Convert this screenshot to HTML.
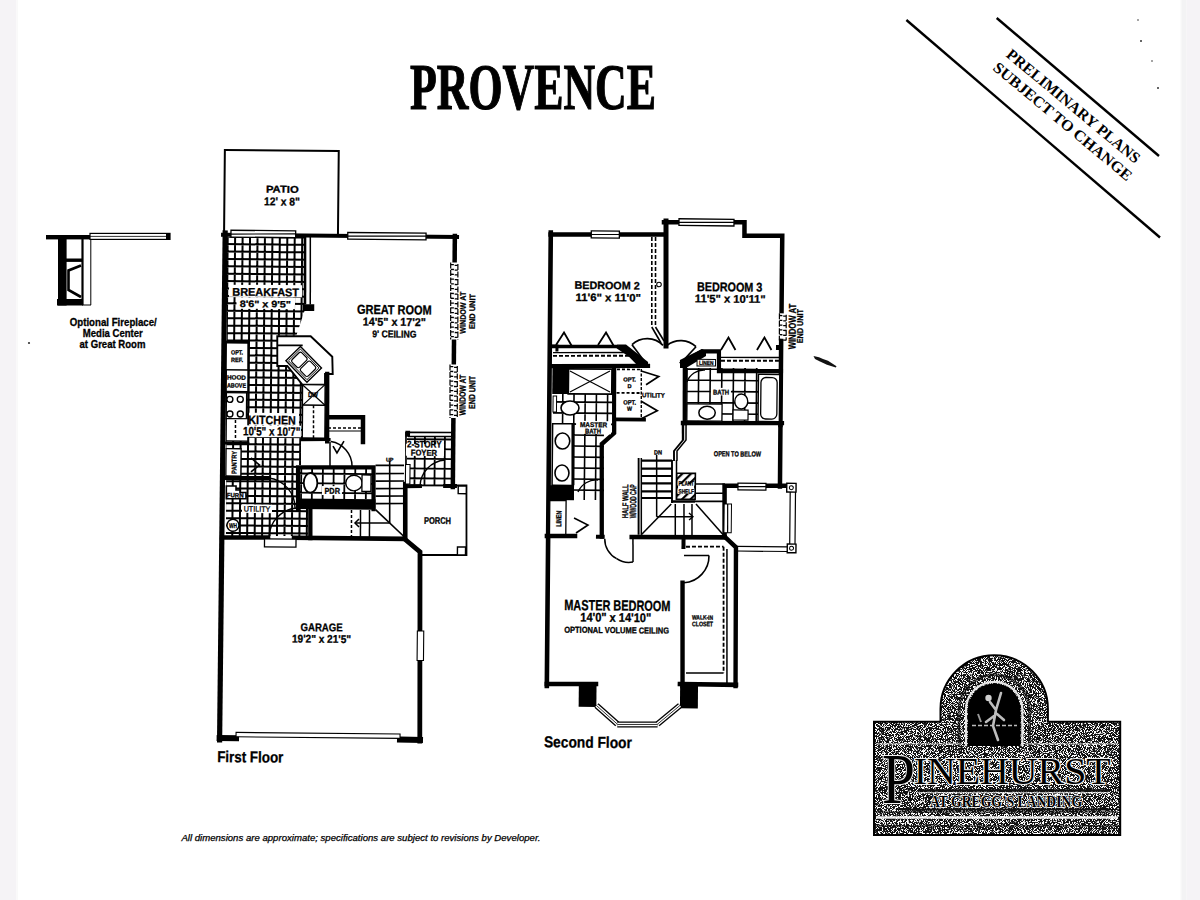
<!DOCTYPE html>
<html><head><meta charset="utf-8"><title>Provence</title>
<style>
html,body{margin:0;padding:0;background:#fff;}
body{width:1200px;height:900px;overflow:hidden;position:relative;}
svg{position:absolute;left:0;top:0;display:block;}
text{fill:#000;}
</style></head>
<body>
<svg width="1200" height="900" viewBox="0 0 1200 900">
<defs>
<pattern id="t1" patternUnits="userSpaceOnUse" x="225.7" y="240.3" width="7.45" height="7.4">
<rect width="7.45" height="7.4" fill="#000"/><rect x="1" y="1" width="5.45" height="5.4" fill="#fff"/>
</pattern>
<pattern id="t2" patternUnits="userSpaceOnUse" x="0" y="0" width="11.2" height="11.2">
<rect width="11.2" height="11.2" fill="#000"/><rect x="0.8" y="0.8" width="9.6" height="9.6" fill="#fff"/>
</pattern>
<pattern id="hatch" patternUnits="userSpaceOnUse" width="6" height="6" patternTransform="rotate(-45)">
<rect width="6" height="6" fill="#fff"/><rect width="6" height="2.2" fill="#000"/>
</pattern>
<filter id="speck" x="0" y="0" width="100%" height="100%" color-interpolation-filters="sRGB">
<feTurbulence type="fractalNoise" baseFrequency="1.1" numOctaves="2" seed="7" result="n"/>
<feColorMatrix in="n" type="matrix" values="0 0 0 0 1  0 0 0 0 1  0 0 0 0 1  14 0 0 0 -7.15" result="m"/>
<feComposite in="m" in2="SourceGraphic" operator="in"/>
</filter>
</defs>
<rect x="0" y="0" width="1200" height="900" fill="#fff"/>
<rect x="0" y="0" width="16.5" height="900" fill="#f5f3f6"/>
<rect x="16.5" y="0" width="1.5" height="900" fill="#f9f9f9"/>
<rect x="1180.5" y="0" width="1" height="900" fill="#f8f8f8"/>
<rect x="1181.5" y="0" width="5" height="900" fill="#f3f3f4"/>
<rect x="1186.5" y="0" width="13.5" height="900" fill="#f5f3f6"/>
<g transform="rotate(0.55 600 450)">
<clipPath id="clp1"><polygon points="225,240.6 302.5,239.8 303.2,313.8 295.2,338.6 276.4,338.8 276.7,369.1 286.5,369 301.9,387.4 302.4,443.9 300.9,443.9 301.2,467.9 296.2,467.9 296.6,511.9 308.6,511.8 308.8,538.8 226.8,539.6"/></clipPath>
<g clip-path="url(#clp1)"><rect x="220" y="236.6" width="92.9" height="306.2" fill="#fff"/>
<path d="M218.2,236.6V542.8M225.7,236.6V542.8M233.1,236.6V542.8M240.6,236.6V542.8M248,236.6V542.8M255.5,236.6V542.8M262.9,236.6V542.8M270.4,236.6V542.8M277.8,236.6V542.8M285.3,236.6V542.8M292.7,236.6V542.8M300.2,236.6V542.8M307.6,236.6V542.8M315.1,236.6V542.8M220,232.9H312.8M220,240.3H312.8M220,247.7H312.8M220,255.1H312.8M220,262.5H312.8M220,269.9H312.8M220,277.3H312.8M220,284.7H312.8M220,292.1H312.8M220,299.5H312.8M220,306.9H312.8M220,314.3H312.8M220,321.7H312.8M220,329.1H312.8M220,336.5H312.8M220,343.9H312.8M220,351.3H312.8M220,358.7H312.8M220,366.1H312.8M220,373.5H312.8M220,380.9H312.8M220,388.3H312.8M220,395.7H312.8M220,403.1H312.8M220,410.5H312.8M220,417.9H312.8M220,425.3H312.8M220,432.7H312.8M220,440.1H312.8M220,447.5H312.8M220,454.9H312.8M220,462.3H312.8M220,469.7H312.8M220,477.1H312.8M220,484.5H312.8M220,491.9H312.8M220,499.3H312.8M220,506.7H312.8M220,514.1H312.8M220,521.5H312.8M220,528.9H312.8M220,536.3H312.8M220,543.7H312.8" stroke="#000" stroke-width="2" fill="none"/></g>
<clipPath id="clp2"><polygon points="406.9,437.9 451.9,437.4 452.4,487.4 407.4,487.9"/></clipPath>
<g clip-path="url(#clp2)"><rect x="402.9" y="433.9" width="53.5" height="57.6" fill="#fff"/>
<path d="M394.8,433.9V491.4M404.8,433.9V491.4M414.8,433.9V491.4M424.8,433.9V491.4M434.8,433.9V491.4M444.8,433.9V491.4M454.8,433.9V491.4M464.8,433.9V491.4M402.9,431.1H456.4M402.9,440.9H456.4M402.9,450.7H456.4M402.9,460.5H456.4M402.9,470.3H456.4M402.9,480.1H456.4M402.9,489.9H456.4M402.9,499.7H456.4" stroke="#000" stroke-width="1.8" fill="none"/></g>
<clipPath id="clp3"><polygon points="300.2,471.9 372.2,471.2 372.5,501.2 300.5,501.9"/></clipPath>
<g clip-path="url(#clp3)"><rect x="296.2" y="467.9" width="80.3" height="37.3" fill="#fff"/>
<path d="M290.7,467.9V505.2M301.5,467.9V505.2M312.3,467.9V505.2M323.1,467.9V505.2M333.9,467.9V505.2M344.7,467.9V505.2M355.5,467.9V505.2M366.3,467.9V505.2M377.1,467.9V505.2M296.2,466.8H376.5M296.2,476.4H376.5M296.2,486H376.5M296.2,495.6H376.5M296.2,505.2H376.5M296.2,514.8H376.5" stroke="#000" stroke-width="1.8" fill="none"/></g>
<rect x="222" y="153.6" width="113.9" height="85" fill="none" stroke="#000" stroke-width="2"/>
<text x="263.5" y="195.7" font-family="Liberation Sans" font-weight="bold" font-size="9.8" textLength="32.7" lengthAdjust="spacingAndGlyphs" stroke="#000" stroke-width="0.3">PATIO</text>
<text x="261.7" y="208.5" font-family="Liberation Sans" font-weight="bold" font-size="11.3" textLength="35.8" lengthAdjust="spacingAndGlyphs" stroke="#000" stroke-width="0.3">12' x 8&quot;</text>
<polyline points="221,238.4 455,238.4" fill="none" stroke="#000" stroke-width="4" stroke-linecap="square" stroke-linejoin="miter"/>
<rect x="228.9" y="233.8" width="64.7" height="6.8" fill="#fff" stroke="#000" stroke-width="1.3"/>
<line x1="228.9" y1="237.6" x2="293.6" y2="236.9" stroke="#000" stroke-width="1.2" stroke-linecap="butt"/>
<rect x="345.7" y="234.9" width="78.3" height="6.6" fill="#fff" stroke="#000" stroke-width="1.3"/>
<line x1="345.7" y1="238.5" x2="424" y2="237.8" stroke="#000" stroke-width="1.2" stroke-linecap="butt"/>
<polyline points="223.1,236.6 222.4,743.6" fill="none" stroke="#000" stroke-width="5.2" stroke-linecap="square" stroke-linejoin="miter"/>
<polyline points="452.8,237.4 453.2,488.4" fill="none" stroke="#000" stroke-width="4.5" stroke-linecap="square" stroke-linejoin="miter"/>
<rect x="448.8" y="263.9" width="8.2" height="77" fill="#fff"/>
<line x1="448.9" y1="263.9" x2="449.6" y2="340.9" stroke="#000" stroke-width="1.2" stroke-linecap="butt" stroke-dasharray="6,1.5"/>
<line x1="456.1" y1="265.4" x2="456.8" y2="340.9" stroke="#000" stroke-width="1.2" stroke-linecap="butt" stroke-dasharray="6,1.5"/>
<line x1="449" y1="266.1" x2="452.1" y2="266.1" stroke="#000" stroke-width="1.3" stroke-linecap="butt"/>
<line x1="452.9" y1="266.7" x2="456" y2="266.7" stroke="#000" stroke-width="1.3" stroke-linecap="butt"/>
<line x1="449.1" y1="270.9" x2="452.2" y2="270.9" stroke="#000" stroke-width="1.3" stroke-linecap="butt"/>
<line x1="453" y1="271.5" x2="456.1" y2="271.5" stroke="#000" stroke-width="1.3" stroke-linecap="butt"/>
<line x1="449.1" y1="275.7" x2="452.2" y2="275.7" stroke="#000" stroke-width="1.3" stroke-linecap="butt"/>
<line x1="453" y1="276.3" x2="456.1" y2="276.3" stroke="#000" stroke-width="1.3" stroke-linecap="butt"/>
<line x1="449.2" y1="280.5" x2="452.3" y2="280.5" stroke="#000" stroke-width="1.3" stroke-linecap="butt"/>
<line x1="453.1" y1="281.1" x2="456.2" y2="281.1" stroke="#000" stroke-width="1.3" stroke-linecap="butt"/>
<line x1="449.2" y1="285.3" x2="452.3" y2="285.3" stroke="#000" stroke-width="1.3" stroke-linecap="butt"/>
<line x1="453.1" y1="285.9" x2="456.2" y2="285.9" stroke="#000" stroke-width="1.3" stroke-linecap="butt"/>
<line x1="449.3" y1="290.1" x2="452.4" y2="290.1" stroke="#000" stroke-width="1.3" stroke-linecap="butt"/>
<line x1="453.2" y1="290.7" x2="456.3" y2="290.7" stroke="#000" stroke-width="1.3" stroke-linecap="butt"/>
<line x1="449.3" y1="294.9" x2="452.4" y2="294.9" stroke="#000" stroke-width="1.3" stroke-linecap="butt"/>
<line x1="453.2" y1="295.5" x2="456.3" y2="295.5" stroke="#000" stroke-width="1.3" stroke-linecap="butt"/>
<line x1="449.4" y1="299.7" x2="452.5" y2="299.7" stroke="#000" stroke-width="1.3" stroke-linecap="butt"/>
<line x1="453.3" y1="300.3" x2="456.4" y2="300.3" stroke="#000" stroke-width="1.3" stroke-linecap="butt"/>
<line x1="449.4" y1="304.5" x2="452.5" y2="304.5" stroke="#000" stroke-width="1.3" stroke-linecap="butt"/>
<line x1="453.3" y1="305.1" x2="456.4" y2="305.1" stroke="#000" stroke-width="1.3" stroke-linecap="butt"/>
<line x1="449.4" y1="309.3" x2="452.5" y2="309.3" stroke="#000" stroke-width="1.3" stroke-linecap="butt"/>
<line x1="453.3" y1="309.9" x2="456.4" y2="309.9" stroke="#000" stroke-width="1.3" stroke-linecap="butt"/>
<line x1="449.5" y1="314.1" x2="452.6" y2="314.1" stroke="#000" stroke-width="1.3" stroke-linecap="butt"/>
<line x1="453.4" y1="314.7" x2="456.5" y2="314.7" stroke="#000" stroke-width="1.3" stroke-linecap="butt"/>
<line x1="449.5" y1="318.9" x2="452.6" y2="318.9" stroke="#000" stroke-width="1.3" stroke-linecap="butt"/>
<line x1="453.4" y1="319.5" x2="456.5" y2="319.5" stroke="#000" stroke-width="1.3" stroke-linecap="butt"/>
<line x1="449.6" y1="323.7" x2="452.7" y2="323.7" stroke="#000" stroke-width="1.3" stroke-linecap="butt"/>
<line x1="453.5" y1="324.3" x2="456.6" y2="324.3" stroke="#000" stroke-width="1.3" stroke-linecap="butt"/>
<line x1="449.6" y1="328.5" x2="452.7" y2="328.5" stroke="#000" stroke-width="1.3" stroke-linecap="butt"/>
<line x1="453.5" y1="329.1" x2="456.6" y2="329.1" stroke="#000" stroke-width="1.3" stroke-linecap="butt"/>
<line x1="449.7" y1="333.3" x2="452.8" y2="333.3" stroke="#000" stroke-width="1.3" stroke-linecap="butt"/>
<line x1="453.6" y1="333.9" x2="456.7" y2="333.9" stroke="#000" stroke-width="1.3" stroke-linecap="butt"/>
<line x1="449.7" y1="338.1" x2="452.8" y2="338.1" stroke="#000" stroke-width="1.3" stroke-linecap="butt"/>
<line x1="453.6" y1="338.7" x2="456.7" y2="338.7" stroke="#000" stroke-width="1.3" stroke-linecap="butt"/>
<rect x="448.9" y="365.9" width="8.3" height="53.5" fill="#fff"/>
<line x1="449.2" y1="365.9" x2="449.7" y2="419.4" stroke="#000" stroke-width="1.2" stroke-linecap="butt" stroke-dasharray="6,1.5"/>
<line x1="456.5" y1="367.4" x2="457" y2="419.4" stroke="#000" stroke-width="1.2" stroke-linecap="butt" stroke-dasharray="6,1.5"/>
<line x1="449.3" y1="368.1" x2="452.5" y2="368.1" stroke="#000" stroke-width="1.3" stroke-linecap="butt"/>
<line x1="453.3" y1="368.7" x2="456.4" y2="368.7" stroke="#000" stroke-width="1.3" stroke-linecap="butt"/>
<line x1="449.4" y1="372.9" x2="452.5" y2="372.9" stroke="#000" stroke-width="1.3" stroke-linecap="butt"/>
<line x1="453.3" y1="373.5" x2="456.5" y2="373.5" stroke="#000" stroke-width="1.3" stroke-linecap="butt"/>
<line x1="449.4" y1="377.7" x2="452.5" y2="377.7" stroke="#000" stroke-width="1.3" stroke-linecap="butt"/>
<line x1="453.4" y1="378.3" x2="456.5" y2="378.3" stroke="#000" stroke-width="1.3" stroke-linecap="butt"/>
<line x1="449.4" y1="382.5" x2="452.6" y2="382.5" stroke="#000" stroke-width="1.3" stroke-linecap="butt"/>
<line x1="453.4" y1="383.1" x2="456.6" y2="383.1" stroke="#000" stroke-width="1.3" stroke-linecap="butt"/>
<line x1="449.5" y1="387.3" x2="452.6" y2="387.3" stroke="#000" stroke-width="1.3" stroke-linecap="butt"/>
<line x1="453.4" y1="387.9" x2="456.6" y2="387.9" stroke="#000" stroke-width="1.3" stroke-linecap="butt"/>
<line x1="449.5" y1="392.1" x2="452.7" y2="392.1" stroke="#000" stroke-width="1.3" stroke-linecap="butt"/>
<line x1="453.5" y1="392.7" x2="456.6" y2="392.7" stroke="#000" stroke-width="1.3" stroke-linecap="butt"/>
<line x1="449.6" y1="396.9" x2="452.7" y2="396.9" stroke="#000" stroke-width="1.3" stroke-linecap="butt"/>
<line x1="453.5" y1="397.5" x2="456.7" y2="397.5" stroke="#000" stroke-width="1.3" stroke-linecap="butt"/>
<line x1="449.6" y1="401.7" x2="452.8" y2="401.7" stroke="#000" stroke-width="1.3" stroke-linecap="butt"/>
<line x1="453.6" y1="402.3" x2="456.7" y2="402.3" stroke="#000" stroke-width="1.3" stroke-linecap="butt"/>
<line x1="449.7" y1="406.5" x2="452.8" y2="406.5" stroke="#000" stroke-width="1.3" stroke-linecap="butt"/>
<line x1="453.6" y1="407.1" x2="456.8" y2="407.1" stroke="#000" stroke-width="1.3" stroke-linecap="butt"/>
<line x1="449.7" y1="411.3" x2="452.9" y2="411.3" stroke="#000" stroke-width="1.3" stroke-linecap="butt"/>
<line x1="453.7" y1="411.9" x2="456.8" y2="411.9" stroke="#000" stroke-width="1.3" stroke-linecap="butt"/>
<line x1="449.8" y1="416.1" x2="452.9" y2="416.1" stroke="#000" stroke-width="1.3" stroke-linecap="butt"/>
<line x1="453.7" y1="416.7" x2="456.9" y2="416.7" stroke="#000" stroke-width="1.3" stroke-linecap="butt"/>
<text x="0" y="0" transform="translate(464.4,335) rotate(-90)" font-family="Liberation Sans" font-weight="bold" font-size="8.1" textLength="42" lengthAdjust="spacingAndGlyphs" stroke="#000" stroke-width="0.3">WINDOW AT</text>
<text x="0" y="0" transform="translate(473.7,330.2) rotate(-90)" font-family="Liberation Sans" font-weight="bold" font-size="8.2" textLength="35" lengthAdjust="spacingAndGlyphs" stroke="#000" stroke-width="0.3">END UNIT</text>
<text x="0" y="0" transform="translate(465.1,416.9) rotate(-90)" font-family="Liberation Sans" font-weight="bold" font-size="8.9" textLength="40.9" lengthAdjust="spacingAndGlyphs" stroke="#000" stroke-width="0.3">WINDOW AT</text>
<text x="0" y="0" transform="translate(474.6,410.2) rotate(-90)" font-family="Liberation Sans" font-weight="bold" font-size="8.9" textLength="33" lengthAdjust="spacingAndGlyphs" stroke="#000" stroke-width="0.3">END UNIT</text>
<line x1="303" y1="239.8" x2="303.6" y2="307.3" stroke="#000" stroke-width="2.6" stroke-linecap="butt"/>
<line x1="308.3" y1="239.8" x2="308.9" y2="307.3" stroke="#000" stroke-width="1.5" stroke-linecap="butt"/>
<rect x="301.6" y="307.1" width="11.3" height="6.7" fill="#000"/>
<rect x="227.5" y="288.2" width="73" height="12" fill="#fff"/>
<text x="230.8" y="299.2" font-family="Liberation Sans" font-weight="bold" font-size="11.2" textLength="66.7" lengthAdjust="spacingAndGlyphs" stroke="#000" stroke-width="0.3">BREAKFAST</text>
<rect x="235.1" y="300.7" width="58.5" height="11.5" fill="#fff"/>
<text x="238.3" y="310.5" font-family="Liberation Sans" font-weight="bold" font-size="9.4" textLength="51.3" lengthAdjust="spacingAndGlyphs" stroke="#000" stroke-width="0.3">8'6&quot; x 9'5&quot;</text>
<text x="355.7" y="316.2" font-family="Liberation Sans" font-weight="bold" font-size="13.1" textLength="74.7" lengthAdjust="spacingAndGlyphs" stroke="#000" stroke-width="0.3">GREAT ROOM</text>
<text x="361.7" y="327.8" font-family="Liberation Sans" font-weight="bold" font-size="11.3" textLength="63" lengthAdjust="spacingAndGlyphs" stroke="#000" stroke-width="0.3">14'5&quot; x 17'2&quot;</text>
<text x="371.1" y="339.4" font-family="Liberation Sans" font-weight="bold" font-size="9.8" textLength="44.3" lengthAdjust="spacingAndGlyphs" stroke="#000" stroke-width="0.3">9' CEILING</text>
<polygon points="276.2,339.4 309.6,339.1 331.4,359.3 332,376.6 324.3,376.6 324.4,387.3 301.9,387.6 286.5,369 276.5,369.1" fill="#fff" stroke="#000" stroke-width="1.9" stroke-linecap="square" stroke-linejoin="miter"/>
<line x1="277" y1="348.4" x2="301.7" y2="348.2" stroke="#000" stroke-width="1.7" stroke-linecap="butt"/>
<g transform="translate(302.9,367.2) rotate(45)">
<rect x="-15" y="-10.2" width="30" height="20.4" fill="#fff" stroke="#000" stroke-width="1.4"/>
<rect x="-13.2" y="-8.4" width="26.4" height="16.8" fill="none" stroke="#000" stroke-width="0.9"/>
<rect x="-11.5" y="-6.8" width="10.6" height="13.6" rx="2" fill="none" stroke="#000" stroke-width="1.2"/>
<rect x="0.9" y="-6.8" width="10.6" height="13.6" rx="2" fill="none" stroke="#000" stroke-width="1.2"/>
</g>
<polyline points="326.5,376.6 327.1,443.9" fill="none" stroke="#000" stroke-width="4.3" stroke-linecap="square" stroke-linejoin="miter"/>
<rect x="302" y="387.5" width="22.5" height="20.6" fill="#fff" stroke="#000" stroke-width="1.3"/>
<line x1="301.9" y1="387.6" x2="324.6" y2="407.9" stroke="#000" stroke-width="1.2" stroke-linecap="butt"/>
<line x1="324.4" y1="387.3" x2="302.1" y2="408.2" stroke="#000" stroke-width="1.2" stroke-linecap="butt"/>
<text x="307.5" y="399.8" font-family="Liberation Sans" font-weight="bold" font-size="7" textLength="10" lengthAdjust="spacingAndGlyphs" stroke="#000" stroke-width="0.3">DW</text>
<rect x="302.2" y="408" width="22.5" height="32.7" fill="#fff" stroke="#000" stroke-width="1.3"/>
<line x1="313.1" y1="408.1" x2="313.4" y2="440.8" stroke="#000" stroke-width="1.5" stroke-linecap="butt" stroke-dasharray="3,2"/>
<polyline points="302.4,442.4 328.9,442.1" fill="none" stroke="#000" stroke-width="3.2" stroke-linecap="square" stroke-linejoin="miter"/>
<polyline points="225.3,345.6 247.3,345.4" fill="none" stroke="#000" stroke-width="2.8" stroke-linecap="square" stroke-linejoin="miter"/>
<rect x="225.4" y="346.5" width="22" height="27" fill="#fff" stroke="#000" stroke-width="1.1"/>
<text x="230.1" y="358" font-family="Liberation Sans" font-weight="bold" font-size="6.3" textLength="12" lengthAdjust="spacingAndGlyphs" stroke="#000" stroke-width="0.3">OPT.</text>
<text x="230.2" y="365.5" font-family="Liberation Sans" font-weight="bold" font-size="6.3" textLength="12" lengthAdjust="spacingAndGlyphs" stroke="#000" stroke-width="0.3">REF.</text>
<rect x="225.7" y="373.5" width="22" height="21.5" fill="#fff" stroke="#000" stroke-width="1.1"/>
<text x="226.3" y="383.1" font-family="Liberation Sans" font-weight="bold" font-size="6.3" textLength="19" lengthAdjust="spacingAndGlyphs" stroke="#000" stroke-width="0.3">HOOD</text>
<text x="226.4" y="391.1" font-family="Liberation Sans" font-weight="bold" font-size="6.3" textLength="19" lengthAdjust="spacingAndGlyphs" stroke="#000" stroke-width="0.3">ABOVE</text>
<rect x="225.9" y="396.2" width="20.2" height="26" fill="#fff" stroke="#000" stroke-width="1.3"/>
<circle cx="229.4" cy="402.9" r="3" fill="none" stroke="#000" stroke-width="1.4"/>
<circle cx="239.8" cy="402.8" r="3" fill="none" stroke="#000" stroke-width="1.4"/>
<circle cx="229.6" cy="417.6" r="3" fill="none" stroke="#000" stroke-width="1.4"/>
<circle cx="240" cy="417.5" r="3" fill="none" stroke="#000" stroke-width="1.4"/>
<rect x="226.1" y="422.2" width="22" height="22.3" fill="#fff" stroke="#000" stroke-width="1.1"/>
<line x1="235.2" y1="423.5" x2="235.4" y2="443.5" stroke="#000" stroke-width="1.5" stroke-linecap="butt" stroke-dasharray="3,2"/>
<line x1="247.3" y1="345.4" x2="248.2" y2="444.4" stroke="#000" stroke-width="1.9" stroke-linecap="butt"/>
<rect x="248.7" y="416.1" width="50" height="12.5" fill="#fff"/>
<text x="248.1" y="427.4" font-family="Liberation Sans" font-weight="bold" font-size="12.2" textLength="47.4" lengthAdjust="spacingAndGlyphs" stroke="#000" stroke-width="0.3">KITCHEN</text>
<rect x="241.8" y="428.7" width="59" height="11.5" fill="#fff"/>
<text x="242.9" y="438.7" font-family="Liberation Sans" font-weight="bold" font-size="12" textLength="57.3" lengthAdjust="spacingAndGlyphs" stroke="#000" stroke-width="0.3">10'5&quot; x 10'7&quot;</text>
<polyline points="226,446.6 247.9,446.4" fill="none" stroke="#000" stroke-width="3" stroke-linecap="square" stroke-linejoin="miter"/>
<rect x="226.1" y="452.2" width="15" height="27.3" fill="#fff" stroke="#000" stroke-width="1.3"/>
<text x="0" y="0" transform="translate(236.7,477.5) rotate(-90)" font-family="Liberation Sans" font-weight="bold" font-size="7" textLength="23" lengthAdjust="spacingAndGlyphs" stroke="#000" stroke-width="0.3">PANTRY</text>
<polyline points="226.3,481.6 268.6,481.2" fill="none" stroke="#000" stroke-width="4.2" stroke-linecap="square" stroke-linejoin="miter"/>
<path d="M251.1,461.3 L259.7,468.3 L251.2,475.3" fill="none" stroke="#000" stroke-width="1.6"/>
<polygon points="226.7,489.6 236.4,489.5 236.4,493.5 240.4,493.5 240.4,496 246.4,495.9 246.5,502.1 226.8,502.3" fill="#fff" stroke="#000" stroke-width="1.6" stroke-linecap="square" stroke-linejoin="miter"/>
<text x="227.3" y="500.9" font-family="Liberation Sans" font-weight="bold" font-size="6.3" textLength="16.7" lengthAdjust="spacingAndGlyphs" stroke="#000" stroke-width="0.3">FURN</text>
<circle cx="233.7" cy="528.8" r="6" fill="#fff" stroke="#000" stroke-width="1.4"/>
<text x="229.8" y="531.6" font-family="Liberation Sans" font-weight="bold" font-size="7" textLength="8" lengthAdjust="spacingAndGlyphs" stroke="#000" stroke-width="0.3">WH</text>
<rect x="242.6" y="507.8" width="30" height="8.5" fill="#fff"/>
<text x="244.3" y="514.9" font-family="Liberation Sans" font-weight="normal" font-size="7.7" textLength="26.6" lengthAdjust="spacingAndGlyphs" stroke="#000" stroke-width="0.3">UTILITY</text>
<path d="M268.6,481.2 A30,30 0 0 1 295.6,510.9" fill="none" stroke="#000" stroke-width="1.4"/>
<path d="M297.6,510.9 A30,30 0 0 0 269.9,540.2" fill="none" stroke="#000" stroke-width="1.4"/>
<line x1="269.8" y1="539.2" x2="269.9" y2="548.2" stroke="#000" stroke-width="1.4" stroke-linecap="butt"/>
<polyline points="222.9,541.1 268.9,540.7" fill="none" stroke="#000" stroke-width="4.6" stroke-linecap="square" stroke-linejoin="miter"/>
<polyline points="294.9,540.7 404.9,540.7" fill="none" stroke="#000" stroke-width="4.6" stroke-linecap="square" stroke-linejoin="miter"/>
<rect x="265.4" y="542.1" width="31.5" height="8" fill="#fff" stroke="#000" stroke-width="1.3"/>
<polyline points="298.6,511.9 298.2,470.2 373.7,469.5 374.1,511.2" fill="none" stroke="#000" stroke-width="4.2" stroke-linecap="square" stroke-linejoin="miter"/>
<rect x="296.5" y="501.5" width="79.5" height="10.5" fill="#000"/>
<ellipse cx="310.9" cy="485.6" rx="6.8" ry="9.8" fill="#fff" stroke="#000" stroke-width="1.8"/>
<ellipse cx="354.3" cy="485.4" rx="8.2" ry="7.8" fill="#fff" stroke="#000" stroke-width="1.4"/>
<rect x="362.3" y="477.2" width="9" height="16.5" fill="#fff" stroke="#000" stroke-width="1.3"/>
<rect x="322.4" y="488.6" width="20" height="9" fill="#fff"/>
<text x="324.9" y="496.3" font-family="Liberation Sans" font-weight="bold" font-size="8.4" textLength="15.5" lengthAdjust="spacingAndGlyphs" stroke="#000" stroke-width="0.3">PDR</text>
<polyline points="310.9,511.8 311.2,540.8" fill="none" stroke="#000" stroke-width="4.3" stroke-linecap="square" stroke-linejoin="miter"/>
<path d="M330.9,444.1 A25,25 0 0 1 352.2,468.4" fill="none" stroke="#000" stroke-width="1.5"/>
<line x1="329.9" y1="444.1" x2="330.2" y2="468.6" stroke="#000" stroke-width="1.5" stroke-linecap="butt"/>
<path d="M333,448.6 L337,455.5 L343.9,443.5" fill="none" stroke="#000" stroke-width="1.6"/>
<polyline points="327.7,419.9 362.7,419.6 362.9,444.3" fill="none" stroke="#000" stroke-width="4.5" stroke-linecap="square" stroke-linejoin="miter"/>
<line x1="327.8" y1="430.6" x2="360.8" y2="430.3" stroke="#000" stroke-width="1.7" stroke-linecap="butt" stroke-dasharray="3,2"/>
<line x1="327.8" y1="433.6" x2="360.8" y2="433.3" stroke="#000" stroke-width="1.2" stroke-linecap="butt"/>
<line x1="375.7" y1="467.5" x2="404.2" y2="467.2" stroke="#000" stroke-width="1.7" stroke-linecap="butt"/>
<line x1="375.7" y1="475.7" x2="404.2" y2="475.4" stroke="#000" stroke-width="1.7" stroke-linecap="butt"/>
<line x1="375.8" y1="483.2" x2="404.3" y2="482.9" stroke="#000" stroke-width="1.7" stroke-linecap="butt"/>
<line x1="375.9" y1="490.7" x2="404.4" y2="490.4" stroke="#000" stroke-width="1.7" stroke-linecap="butt"/>
<line x1="376" y1="498.2" x2="404.5" y2="497.9" stroke="#000" stroke-width="1.7" stroke-linecap="butt"/>
<line x1="376" y1="505.7" x2="404.5" y2="505.4" stroke="#000" stroke-width="1.7" stroke-linecap="butt"/>
<line x1="389.8" y1="463" x2="390.4" y2="525" stroke="#000" stroke-width="1.6" stroke-linecap="butt"/>
<line x1="376.1" y1="511.7" x2="404.8" y2="538.4" stroke="#000" stroke-width="1.6" stroke-linecap="butt"/>
<line x1="352.1" y1="512.4" x2="352.3" y2="539.4" stroke="#000" stroke-width="1.5" stroke-linecap="butt" stroke-dasharray="3,2"/>
<line x1="361.1" y1="512.3" x2="361.3" y2="539.3" stroke="#000" stroke-width="1.5" stroke-linecap="butt"/>
<line x1="370.1" y1="512.2" x2="370.3" y2="539.2" stroke="#000" stroke-width="1.5" stroke-linecap="butt"/>
<line x1="355.7" y1="525.3" x2="390.4" y2="525" stroke="#000" stroke-width="1.5" stroke-linecap="butt"/>
<path d="M359.7,521.3 L355.7,525.3 L359.8,529.3" fill="none" stroke="#000" stroke-width="1.5"/>
<text x="386.1" y="463.6" font-family="Liberation Sans" font-weight="bold" font-size="5.3" textLength="7.5" lengthAdjust="spacingAndGlyphs" stroke="#000" stroke-width="0.3">UP</text>
<polyline points="405.6,485.9 406.1,538.9" fill="none" stroke="#000" stroke-width="4.6" stroke-linecap="square" stroke-linejoin="miter"/>
<line x1="405.8" y1="433.9" x2="406.3" y2="485.9" stroke="#000" stroke-width="1.7" stroke-linecap="butt"/>
<line x1="407.8" y1="434.3" x2="451.8" y2="433.9" stroke="#000" stroke-width="1.7" stroke-linecap="butt"/>
<line x1="407.9" y1="438.3" x2="451.9" y2="437.9" stroke="#000" stroke-width="1.5" stroke-linecap="butt"/>
<rect x="405.2" y="432.5" width="4.7" height="6" fill="#000"/>
<rect x="406" y="445.7" width="38" height="12" fill="#fff"/>
<text x="407" y="449.2" font-family="Liberation Sans" font-weight="bold" font-size="9.5" textLength="34.5" lengthAdjust="spacingAndGlyphs" stroke="#000" stroke-width="0.3">2-STORY</text>
<text x="410.8" y="457.3" font-family="Liberation Sans" font-weight="bold" font-size="8.4" textLength="26.3" lengthAdjust="spacingAndGlyphs" stroke="#000" stroke-width="0.3">FOYER</text>
<polyline points="405.9,488.1 420.4,487.9" fill="none" stroke="#000" stroke-width="3.8" stroke-linecap="square" stroke-linejoin="miter"/>
<polyline points="445.4,487.5 455.4,487.4" fill="none" stroke="#000" stroke-width="3.8" stroke-linecap="square" stroke-linejoin="miter"/>
<rect x="405.7" y="466.3" width="4.5" height="19.5" fill="#fff" stroke="#000" stroke-width="1.1"/>
<path d="M420.4,487.7 A27,27 0 0 1 445.1,461.5" fill="none" stroke="#000" stroke-width="1.4"/>
<polyline points="408,487.3 466.8,486.8 467.5,556.3 423,556.7" fill="none" stroke="#000" stroke-width="1.8" stroke-linecap="square" stroke-linejoin="miter"/>
<rect x="458.6" y="487.3" width="8.1" height="7.7" fill="#fff" stroke="#000" stroke-width="1.4"/>
<rect x="458.4" y="548.3" width="8.1" height="8" fill="#fff" stroke="#000" stroke-width="1.4"/>
<text x="424.7" y="525.4" font-family="Liberation Sans" font-weight="bold" font-size="9.4" textLength="27" lengthAdjust="spacingAndGlyphs" stroke="#000" stroke-width="0.3">PORCH</text>
<polyline points="404.9,540.4 421,553.7 422.6,742.7" fill="none" stroke="#000" stroke-width="4.8" stroke-linecap="square" stroke-linejoin="miter"/>
<polyline points="222.4,741.6 238.8,741.7" fill="none" stroke="#000" stroke-width="6" stroke-linecap="square" stroke-linejoin="miter"/>
<polyline points="402.8,741.4 422.8,741.7" fill="none" stroke="#000" stroke-width="6" stroke-linecap="square" stroke-linejoin="miter"/>
<rect x="238.8" y="735.9" width="164" height="4.4" fill="#fff" stroke="#000" stroke-width="1.1"/>
<rect x="419.1" y="632.7" width="6.4" height="29.5" fill="#fff" stroke="#000" stroke-width="1.1"/>
<text x="302.3" y="633.9" font-family="Liberation Sans" font-weight="bold" font-size="11.2" textLength="42" lengthAdjust="spacingAndGlyphs" stroke="#000" stroke-width="0.3">GARAGE</text>
<text x="293.9" y="645.4" font-family="Liberation Sans" font-weight="bold" font-size="11.2" textLength="59" lengthAdjust="spacingAndGlyphs" stroke="#000" stroke-width="0.3">19'2&quot; x 21'5&quot;</text>
<text x="220.2" y="765.7" font-family="Liberation Sans" font-weight="bold" font-size="15.6" textLength="66.1" lengthAdjust="spacingAndGlyphs" stroke="#000" stroke-width="0.3">First Floor</text>
<clipPath id="clp4"><polygon points="552.5,394.5 611.5,393.9 611.8,432.9 572.8,433.3 573.4,490.3 553.4,490.4"/></clipPath>
<g clip-path="url(#clp4)"><rect x="548.5" y="390.5" width="67.9" height="103.4" fill="#fff"/>
<path d="M539.9,390.5V493.9M551.1,390.5V493.9M562.3,390.5V493.9M573.5,390.5V493.9M584.7,390.5V493.9M595.9,390.5V493.9M607.1,390.5V493.9M618.3,390.5V493.9M548.5,380.3H616.4M548.5,391.3H616.4M548.5,402.3H616.4M548.5,413.3H616.4M548.5,424.3H616.4M548.5,435.3H616.4M548.5,446.3H616.4M548.5,457.3H616.4M548.5,468.3H616.4M548.5,479.3H616.4M548.5,490.3H616.4M548.5,501.3H616.4" stroke="#000" stroke-width="1.6" fill="none"/></g>
<clipPath id="clp5"><polygon points="572.8,433.3 603.8,433 604.5,500 573.5,500.3"/></clipPath>
<g clip-path="url(#clp5)"><rect x="568.8" y="429.3" width="39.6" height="74.7" fill="#fff"/>
<path d="M562.3,429.3V504M573.5,429.3V504M584.7,429.3V504M595.9,429.3V504M607.1,429.3V504M618.3,429.3V504M568.8,424.3H608.5M568.8,435.3H608.5M568.8,446.3H608.5M568.8,457.3H608.5M568.8,468.3H608.5M568.8,479.3H608.5M568.8,490.3H608.5M568.8,501.3H608.5M568.8,512.3H608.5" stroke="#000" stroke-width="1.6" fill="none"/></g>
<clipPath id="clp6"><polygon points="686.2,367.2 757.2,366.5 757.7,419.5 686.7,420.2"/></clipPath>
<g clip-path="url(#clp6)"><rect x="682.2" y="363.2" width="79.5" height="60.3" fill="#fff"/>
<path d="M674.7,363.2V423.5M686.3,363.2V423.5M697.9,363.2V423.5M709.5,363.2V423.5M721.1,363.2V423.5M732.7,363.2V423.5M744.3,363.2V423.5M755.9,363.2V423.5M767.5,363.2V423.5M682.2,356.8H761.7M682.2,368H761.7M682.2,379.2H761.7M682.2,390.4H761.7M682.2,401.6H761.7M682.2,412.8H761.7M682.2,424H761.7" stroke="#000" stroke-width="1.6" fill="none"/></g>
<polyline points="548.6,235 660.9,233.9" fill="none" stroke="#000" stroke-width="4.6" stroke-linecap="square" stroke-linejoin="miter"/>
<rect x="589.2" y="231" width="28.1" height="7" fill="#fff" stroke="#000" stroke-width="1.3"/>
<line x1="589.2" y1="234.6" x2="617.3" y2="234.3" stroke="#000" stroke-width="1.2" stroke-linecap="butt"/>
<polyline points="548.7,233 549.1,686.5" fill="none" stroke="#000" stroke-width="4.6" stroke-linecap="square" stroke-linejoin="miter"/>
<text x="572.9" y="289.1" font-family="Liberation Sans" font-weight="bold" font-size="10.9" textLength="65.2" lengthAdjust="spacingAndGlyphs" stroke="#000" stroke-width="0.3">BEDROOM 2</text>
<text x="574.1" y="301.2" font-family="Liberation Sans" font-weight="bold" font-size="10.8" textLength="65.3" lengthAdjust="spacingAndGlyphs" stroke="#000" stroke-width="0.3">11'6&quot; x 11'0&quot;</text>
<line x1="649.8" y1="236.5" x2="650.6" y2="326.5" stroke="#000" stroke-width="1.6" stroke-linecap="butt" stroke-dasharray="4,2"/>
<line x1="653.5" y1="236.5" x2="654.3" y2="326.5" stroke="#000" stroke-width="1.6" stroke-linecap="butt" stroke-dasharray="4,2"/>
<line x1="650.6" y1="326.5" x2="660" y2="342.4" stroke="#000" stroke-width="1.6" stroke-linecap="butt"/>
<line x1="654.3" y1="326.5" x2="663" y2="340.4" stroke="#000" stroke-width="1.6" stroke-linecap="butt"/>
<circle cx="657.4" cy="283.9" r="2.3" fill="#fff" stroke="#000" stroke-width="1"/>
<polyline points="552,346.5 556,346.4 556,350.4" fill="none" stroke="#000" stroke-width="3" stroke-linecap="square" stroke-linejoin="miter"/>
<path d="M555,345.4 L562.9,332.9 L570.5,345.8" fill="none" stroke="#000" stroke-width="1.8"/>
<path d="M597,345 L604.9,332.4 L612.5,345.4" fill="none" stroke="#000" stroke-width="1.8"/>
<polyline points="551,347 616,346.3 644.2,364.6" fill="none" stroke="#000" stroke-width="3.5" stroke-linecap="square" stroke-linejoin="miter"/>
<polygon points="616,344.3 625,344.3 647.2,361.5 647.2,367.5 639.2,367.6" fill="#000"/>
<line x1="552.1" y1="356.3" x2="629.1" y2="355.5" stroke="#000" stroke-width="1.9" stroke-linecap="butt" stroke-dasharray="4,2"/>
<line x1="552.1" y1="353" x2="629.1" y2="352.2" stroke="#000" stroke-width="1.3" stroke-linecap="butt"/>
<polyline points="551.2,366.5 647.2,365.5" fill="none" stroke="#000" stroke-width="4.2" stroke-linecap="square" stroke-linejoin="miter"/>
<polyline points="663.8,220.4 665,345.4" fill="none" stroke="#000" stroke-width="5" stroke-linecap="square" stroke-linejoin="miter"/>
<polyline points="661.8,221.7 742.3,220.9 742.4,234.4 780.2,234.1 780.2,310.3" fill="none" stroke="#000" stroke-width="4.5" stroke-linecap="square" stroke-linejoin="miter"/>
<rect x="676.8" y="218" width="55" height="6.7" fill="#fff" stroke="#000" stroke-width="1.3"/>
<line x1="676.8" y1="221.6" x2="731.8" y2="221.1" stroke="#000" stroke-width="1.2" stroke-linecap="butt"/>
<rect x="777.7" y="311.6" width="7.8" height="27.3" fill="#fff"/>
<line x1="778.1" y1="311.6" x2="778.3" y2="338.9" stroke="#000" stroke-width="1.2" stroke-linecap="butt" stroke-dasharray="6,1.5"/>
<line x1="784.9" y1="313" x2="785.1" y2="338.8" stroke="#000" stroke-width="1.2" stroke-linecap="butt" stroke-dasharray="6,1.5"/>
<line x1="778.2" y1="313.8" x2="781.1" y2="313.8" stroke="#000" stroke-width="1.3" stroke-linecap="butt"/>
<line x1="781.9" y1="314.3" x2="784.8" y2="314.3" stroke="#000" stroke-width="1.3" stroke-linecap="butt"/>
<line x1="778.2" y1="318.6" x2="781.1" y2="318.6" stroke="#000" stroke-width="1.3" stroke-linecap="butt"/>
<line x1="782" y1="319.1" x2="784.9" y2="319.1" stroke="#000" stroke-width="1.3" stroke-linecap="butt"/>
<line x1="778.3" y1="323.4" x2="781.2" y2="323.4" stroke="#000" stroke-width="1.3" stroke-linecap="butt"/>
<line x1="782" y1="323.9" x2="784.9" y2="323.9" stroke="#000" stroke-width="1.3" stroke-linecap="butt"/>
<line x1="778.3" y1="328.2" x2="781.2" y2="328.2" stroke="#000" stroke-width="1.3" stroke-linecap="butt"/>
<line x1="782" y1="328.7" x2="784.9" y2="328.7" stroke="#000" stroke-width="1.3" stroke-linecap="butt"/>
<line x1="778.4" y1="333" x2="781.3" y2="333" stroke="#000" stroke-width="1.3" stroke-linecap="butt"/>
<line x1="782.1" y1="333.5" x2="785" y2="333.5" stroke="#000" stroke-width="1.3" stroke-linecap="butt"/>
<line x1="778.4" y1="337.8" x2="781.3" y2="337.8" stroke="#000" stroke-width="1.3" stroke-linecap="butt"/>
<line x1="782.1" y1="338.3" x2="785" y2="338.3" stroke="#000" stroke-width="1.3" stroke-linecap="butt"/>
<polyline points="780.1,339.3 780.2,423.3" fill="none" stroke="#000" stroke-width="4.5" stroke-linecap="square" stroke-linejoin="miter"/>
<text x="695.5" y="290.1" font-family="Liberation Sans" font-weight="bold" font-size="12.6" textLength="65.3" lengthAdjust="spacingAndGlyphs" stroke="#000" stroke-width="0.3">BEDROOM 3</text>
<text x="693.4" y="301.4" font-family="Liberation Sans" font-weight="bold" font-size="11" textLength="70.8" lengthAdjust="spacingAndGlyphs" stroke="#000" stroke-width="0.3">11'5&quot; x 10'11&quot;</text>
<text x="0" y="0" transform="translate(794.6,347.5) rotate(-90)" font-family="Liberation Sans" font-weight="bold" font-size="10.2" textLength="45.5" lengthAdjust="spacingAndGlyphs" stroke="#000" stroke-width="0.3">WINDOW AT</text>
<text x="0" y="0" transform="translate(801.8,341.4) rotate(-90)" font-family="Liberation Sans" font-weight="bold" font-size="8.5" textLength="34.4" lengthAdjust="spacingAndGlyphs" stroke="#000" stroke-width="0.3">END UNIT</text>
<line x1="643.1" y1="360.3" x2="631" y2="344.4" stroke="#000" stroke-width="1.7" stroke-linecap="butt"/>
<path d="M631,344.4 A22,22 0 0 1 662,344.7" fill="none" stroke="#000" stroke-width="1.7"/>
<line x1="680.5" y1="361.9" x2="695" y2="345.8" stroke="#000" stroke-width="1.7" stroke-linecap="butt"/>
<path d="M695,345.8 A22,22 0 0 0 666,344.7" fill="none" stroke="#000" stroke-width="1.7"/>
<path d="M720,348.8 L727.4,336.3 L734.5,348.7" fill="none" stroke="#000" stroke-width="1.8"/>
<path d="M756,348.5 L763.4,335.9 L770.5,348.4" fill="none" stroke="#000" stroke-width="1.8"/>
<rect x="775" y="343.3" width="5" height="5" fill="#000"/>
<polyline points="681.2,362.2 701,350.3 718,350.2 718.2,369.9 780.2,369.3" fill="none" stroke="#000" stroke-width="4.2" stroke-linecap="square" stroke-linejoin="miter"/>
<polygon points="679.1,359.2 701,348 705,350 705.1,355 685.2,367.2 679.2,367.2" fill="#000"/>
<line x1="720.1" y1="359.6" x2="778.1" y2="359.1" stroke="#000" stroke-width="1.9" stroke-linecap="butt" stroke-dasharray="4,2"/>
<line x1="720.1" y1="356.3" x2="778.1" y2="355.8" stroke="#000" stroke-width="1.3" stroke-linecap="butt"/>
<rect x="696.2" y="358.3" width="18.5" height="6.7" fill="#fff" stroke="#000" stroke-width="1"/>
<text x="698.2" y="363.9" font-family="Liberation Sans" font-weight="bold" font-size="6" textLength="14.5" lengthAdjust="spacingAndGlyphs" stroke="#000" stroke-width="0.3">LINEN</text>
<polyline points="684,361.2 684.5,422.2" fill="none" stroke="#000" stroke-width="4.3" stroke-linecap="square" stroke-linejoin="miter"/>
<polyline points="682.7,422.2 781.7,421.3" fill="none" stroke="#000" stroke-width="4.3" stroke-linecap="square" stroke-linejoin="miter"/>
<rect x="757.7" y="372.8" width="21.4" height="47.2" fill="#fff" stroke="#000" stroke-width="1.5"/>
<rect x="760.3" y="375.9" width="16.2" height="41.5" fill="none" stroke="#000" stroke-width="1.3" rx="5"/>
<ellipse cx="740.8" cy="400.1" rx="6.5" ry="7.5" fill="#fff" stroke="#000" stroke-width="1.4"/>
<rect x="732.7" y="408.7" width="15" height="10" fill="#fff" stroke="#000" stroke-width="1.2"/>
<rect x="686.6" y="403" width="35" height="17" fill="#fff" stroke="#000" stroke-width="1.2"/>
<ellipse cx="706.7" cy="411.7" rx="8.2" ry="6.4" fill="#fff" stroke="#000" stroke-width="1.5"/>
<rect x="710.4" y="386.8" width="20" height="7.5" fill="#fff"/>
<text x="712.5" y="393.4" font-family="Liberation Sans" font-weight="bold" font-size="6.8" textLength="16" lengthAdjust="spacingAndGlyphs" stroke="#000" stroke-width="0.3">BATH</text>
<path d="M686.3,381.2 A18,18 0 0 1 704.2,369" fill="none" stroke="#000" stroke-width="1.4"/>
<rect x="551.7" y="366" width="16" height="28.4" fill="#000"/>
<rect x="567.7" y="369.1" width="43.6" height="25" fill="#fff" stroke="#000" stroke-width="1.8"/>
<line x1="569.2" y1="371.3" x2="609.4" y2="391.9" stroke="#000" stroke-width="1.2" stroke-linecap="butt"/>
<line x1="609.2" y1="370.9" x2="569.4" y2="392.3" stroke="#000" stroke-width="1.2" stroke-linecap="butt"/>
<polyline points="613.4,365.9 614,433 601.7,444 602.6,536.5" fill="none" stroke="#000" stroke-width="4.3" stroke-linecap="square" stroke-linejoin="miter"/>
<rect x="596.8" y="534.7" width="8.7" height="4" fill="#000"/>
<rect x="552.6" y="396.4" width="3.5" height="16" fill="#fff" stroke="#000" stroke-width="1"/>
<ellipse cx="569.6" cy="408.3" rx="9" ry="7" fill="#fff" stroke="#000" stroke-width="1.6"/>
<rect x="575.8" y="421.1" width="35" height="13" fill="#fff"/>
<text x="579.8" y="427.2" font-family="Liberation Sans" font-weight="bold" font-size="7" textLength="27" lengthAdjust="spacingAndGlyphs" stroke="#000" stroke-width="0.3">MASTER</text>
<text x="584.8" y="433.6" font-family="Liberation Sans" font-weight="bold" font-size="7" textLength="16" lengthAdjust="spacingAndGlyphs" stroke="#000" stroke-width="0.3">BATH</text>
<rect x="552.4" y="424.1" width="20.6" height="61.6" fill="#fff" stroke="#000" stroke-width="1.5"/>
<line x1="572.7" y1="424" x2="573.3" y2="485.6" stroke="#000" stroke-width="3" stroke-linecap="butt"/>
<rect x="549.9" y="485.7" width="24.5" height="14.7" fill="#000"/>
<ellipse cx="562.4" cy="441.4" rx="7.3" ry="8" fill="#fff" stroke="#000" stroke-width="1.6"/>
<ellipse cx="562.2" cy="473.4" rx="7" ry="8" fill="#fff" stroke="#000" stroke-width="1.6"/>
<path d="M578.4,492.2 A20,20 0 0 1 598.3,480" fill="none" stroke="#000" stroke-width="1.4"/>
<rect x="616" y="368.7" width="25" height="51" fill="#fff"/>
<line x1="616.2" y1="369.3" x2="640.2" y2="369.1" stroke="#000" stroke-width="1.7" stroke-linecap="butt" stroke-dasharray="3,2"/>
<line x1="640.5" y1="368.6" x2="641" y2="419.6" stroke="#000" stroke-width="1.4" stroke-linecap="butt" stroke-dasharray="3,1.5"/>
<line x1="616" y1="392.8" x2="640.5" y2="392.6" stroke="#000" stroke-width="1.8" stroke-linecap="butt" stroke-dasharray="3,2"/>
<polyline points="615.7,419.3 643.7,419.1" fill="none" stroke="#000" stroke-width="3.8" stroke-linecap="square" stroke-linejoin="miter"/>
<text x="622.6" y="381.3" font-family="Liberation Sans" font-weight="bold" font-size="5.9" textLength="12.7" lengthAdjust="spacingAndGlyphs" stroke="#000" stroke-width="0.3">OPT.</text>
<text x="626.9" y="387.7" font-family="Liberation Sans" font-weight="bold" font-size="5.6" textLength="4" lengthAdjust="spacingAndGlyphs" stroke="#000" stroke-width="0.3">D</text>
<text x="622.9" y="404.3" font-family="Liberation Sans" font-weight="bold" font-size="6.3" textLength="12.7" lengthAdjust="spacingAndGlyphs" stroke="#000" stroke-width="0.3">OPT.</text>
<text x="626.6" y="410.4" font-family="Liberation Sans" font-weight="bold" font-size="5.9" textLength="5" lengthAdjust="spacingAndGlyphs" stroke="#000" stroke-width="0.3">W</text>
<text x="641.5" y="396.9" font-family="Liberation Sans" font-weight="bold" font-size="6.4" textLength="22.7" lengthAdjust="spacingAndGlyphs" stroke="#000" stroke-width="0.3">UTILITY</text>
<path d="M640.5,370.6 L658,375.9 L645.4,384.3" fill="none" stroke="#000" stroke-width="1.7"/>
<path d="M640.8,400.9 L656.9,410.2 L641,418.3" fill="none" stroke="#000" stroke-width="1.7"/>
<line x1="682.7" y1="422.2" x2="682.9" y2="439.2" stroke="#000" stroke-width="2.4" stroke-linecap="butt"/>
<polyline points="682.7,423.2 682.9,439.2 674,450.3 674.1,459.3" fill="none" stroke="#000" stroke-width="1.9" stroke-linecap="square" stroke-linejoin="miter"/>
<polyline points="685.8,424.2 685.9,439.2 677,450.3 677.1,459.3" fill="none" stroke="#000" stroke-width="1.5" stroke-linecap="square" stroke-linejoin="miter"/>
<line x1="638.7" y1="457.6" x2="639.4" y2="534.3" stroke="#000" stroke-width="1.9" stroke-linecap="butt"/>
<line x1="641.4" y1="457.6" x2="642.1" y2="534.3" stroke="#000" stroke-width="1.5" stroke-linecap="butt"/>
<line x1="641.4" y1="460.3" x2="672.1" y2="460" stroke="#000" stroke-width="2.2" stroke-linecap="butt"/>
<line x1="641.5" y1="468.3" x2="672.2" y2="468" stroke="#000" stroke-width="2.2" stroke-linecap="butt"/>
<line x1="641.5" y1="475.6" x2="672.2" y2="475.3" stroke="#000" stroke-width="2.2" stroke-linecap="butt"/>
<line x1="641.6" y1="482.9" x2="672.3" y2="482.6" stroke="#000" stroke-width="2.2" stroke-linecap="butt"/>
<line x1="641.7" y1="490.9" x2="672.4" y2="490.6" stroke="#000" stroke-width="2.2" stroke-linecap="butt"/>
<line x1="641.8" y1="497.6" x2="672.5" y2="497.3" stroke="#000" stroke-width="2.2" stroke-linecap="butt"/>
<line x1="672.1" y1="459.3" x2="672.5" y2="502.3" stroke="#000" stroke-width="1.9" stroke-linecap="butt"/>
<line x1="676.6" y1="459.3" x2="677" y2="499.3" stroke="#000" stroke-width="1.5" stroke-linecap="butt"/>
<line x1="656.7" y1="454.5" x2="657.3" y2="516.2" stroke="#000" stroke-width="1.5" stroke-linecap="butt"/>
<line x1="657.3" y1="516.2" x2="693.6" y2="515.8" stroke="#000" stroke-width="1.5" stroke-linecap="butt"/>
<path d="M689.6,512.1 L693.6,515.8 L689.7,519.1" fill="none" stroke="#000" stroke-width="1.4"/>
<text x="654" y="454" font-family="Liberation Sans" font-weight="bold" font-size="6.3" textLength="8" lengthAdjust="spacingAndGlyphs" stroke="#000" stroke-width="0.3">DN</text>
<rect x="677" y="472.5" width="18.6" height="26" fill="url(#hatch)" stroke="#000" stroke-width="1.6"/>
<rect x="678.4" y="483.2" width="16" height="10" fill="#fff"/>
<text x="678.8" y="484.7" font-family="Liberation Sans" font-weight="bold" font-size="6.3" textLength="15.5" lengthAdjust="spacingAndGlyphs" stroke="#000" stroke-width="0.3">PLANT</text>
<text x="678.9" y="492.7" font-family="Liberation Sans" font-weight="bold" font-size="6.3" textLength="15.5" lengthAdjust="spacingAndGlyphs" stroke="#000" stroke-width="0.3">SHELF</text>
<line x1="671.5" y1="500.8" x2="695.5" y2="500.6" stroke="#000" stroke-width="2.6" stroke-linecap="butt"/>
<line x1="642.1" y1="534.3" x2="671.8" y2="503.3" stroke="#000" stroke-width="1.5" stroke-linecap="butt"/>
<line x1="675.8" y1="503.3" x2="676.1" y2="534.3" stroke="#000" stroke-width="1.5" stroke-linecap="butt"/>
<line x1="684.5" y1="503.2" x2="684.8" y2="534.2" stroke="#000" stroke-width="1.5" stroke-linecap="butt"/>
<line x1="692.5" y1="503.1" x2="692.8" y2="534.1" stroke="#000" stroke-width="1.5" stroke-linecap="butt"/>
<line x1="696.5" y1="503.1" x2="725.8" y2="535.5" stroke="#000" stroke-width="1.5" stroke-linecap="butt"/>
<line x1="695.3" y1="483.1" x2="725.3" y2="482.8" stroke="#000" stroke-width="1.5" stroke-linecap="butt"/>
<line x1="695.4" y1="492.4" x2="725.4" y2="492.1" stroke="#000" stroke-width="1.5" stroke-linecap="butt"/>
<line x1="695.5" y1="500.4" x2="725.5" y2="500.1" stroke="#000" stroke-width="1.7" stroke-linecap="butt"/>
<text x="0" y="0" transform="translate(628.7,518) rotate(-90)" font-family="Liberation Sans" font-weight="bold" font-size="8.4" textLength="33.8" lengthAdjust="spacingAndGlyphs" stroke="#000" stroke-width="0.3">HALF WALL</text>
<text x="0" y="0" transform="translate(636.7,518) rotate(-90)" font-family="Liberation Sans" font-weight="bold" font-size="9.1" textLength="33.8" lengthAdjust="spacingAndGlyphs" stroke="#000" stroke-width="0.3">W/WOOD CAP</text>
<polyline points="780.2,423.3 780.3,484.8" fill="none" stroke="#000" stroke-width="4.5" stroke-linecap="square" stroke-linejoin="miter"/>
<text x="713.9" y="455.1" font-family="Liberation Sans" font-weight="bold" font-size="7.4" textLength="47.1" lengthAdjust="spacingAndGlyphs" stroke="#000" stroke-width="0.3">OPEN TO BELOW</text>
<polyline points="725.4,535.5 724.9,484.5 789,483.9" fill="none" stroke="#000" stroke-width="4.5" stroke-linecap="square" stroke-linejoin="miter"/>
<rect x="738.3" y="481.8" width="28" height="6.7" fill="#fff" stroke="#000" stroke-width="1.2"/>
<line x1="738.3" y1="485.3" x2="766.3" y2="485.1" stroke="#000" stroke-width="1.2" stroke-linecap="butt"/>
<rect x="724.7" y="502.8" width="7.3" height="28.7" fill="#fff" stroke="#000" stroke-width="1"/>
<line x1="728.2" y1="502.8" x2="728.4" y2="531.5" stroke="#000" stroke-width="1.2" stroke-linecap="butt"/>
<rect x="737.9" y="545.1" width="51" height="4.6" fill="#fff" stroke="#000" stroke-width="1.2"/>
<rect x="790.6" y="486.1" width="5.3" height="58" fill="#fff" stroke="#000" stroke-width="1.2"/>
<rect x="787.1" y="481.5" width="9.3" height="8.7" fill="#fff" stroke="#000" stroke-width="1.4"/>
<rect x="788.2" y="542.2" width="8.7" height="8.7" fill="#fff" stroke="#000" stroke-width="1.4"/>
<circle cx="791.7" cy="485.8" r="2" fill="#fff" stroke="#000" stroke-width="1"/>
<circle cx="792.5" cy="546.5" r="2" fill="#fff" stroke="#000" stroke-width="1"/>
<polyline points="725.4,535.5 736.9,546 737.8,684.7" fill="none" stroke="#000" stroke-width="4.4" stroke-linecap="square" stroke-linejoin="miter"/>
<polyline points="547.8,536.5 575.8,536.2" fill="none" stroke="#000" stroke-width="4.6" stroke-linecap="square" stroke-linejoin="miter"/>
<polyline points="632.6,536.7 725.4,536.2" fill="none" stroke="#000" stroke-width="4.6" stroke-linecap="square" stroke-linejoin="miter"/>
<path d="M605.6,538.7 A22,22 0 0 0 617.7,558.5" fill="none" stroke="#000" stroke-width="1.5"/>
<path d="M617.7,558.5 A22,22 0 0 0 634.1,561.7" fill="none" stroke="#000" stroke-width="1.5"/>
<line x1="633.8" y1="537.7" x2="634.1" y2="561.7" stroke="#000" stroke-width="1.5" stroke-linecap="butt"/>
<polyline points="549.1,684.5 598.2,684" fill="none" stroke="#000" stroke-width="4.6" stroke-linecap="square" stroke-linejoin="miter"/>
<polyline points="682.2,683.2 738.2,683.5" fill="none" stroke="#000" stroke-width="4.6" stroke-linecap="square" stroke-linejoin="miter"/>
<rect x="581.1" y="684.1" width="17.7" height="22.8" fill="#000"/>
<rect x="682.4" y="683.1" width="17.9" height="24.4" fill="#000"/>
<line x1="598.9" y1="705.5" x2="619.9" y2="723.9" stroke="#000" stroke-width="6"/>
<line x1="598.9" y1="705.5" x2="619.9" y2="723.9" stroke="#fff" stroke-width="3.4"/>
<line x1="598.9" y1="705.5" x2="619.9" y2="723.9" stroke="#000" stroke-width="0.8"/>
<line x1="619.9" y1="724.3" x2="660.2" y2="723.9" stroke="#000" stroke-width="6"/>
<line x1="619.9" y1="724.3" x2="660.2" y2="723.9" stroke="#fff" stroke-width="3.4"/>
<line x1="619.9" y1="724.3" x2="660.2" y2="723.9" stroke="#000" stroke-width="0.8"/>
<line x1="660.2" y1="723.5" x2="682.4" y2="704.7" stroke="#000" stroke-width="6"/>
<line x1="660.2" y1="723.5" x2="682.4" y2="704.7" stroke="#fff" stroke-width="3.4"/>
<line x1="660.2" y1="723.5" x2="682.4" y2="704.7" stroke="#000" stroke-width="0.8"/>
<polyline points="683.8,582 684.8,685.2" fill="none" stroke="#000" stroke-width="4.4" stroke-linecap="square" stroke-linejoin="miter"/>
<polyline points="684.4,538.2 684.4,546.2" fill="none" stroke="#000" stroke-width="4" stroke-linecap="square" stroke-linejoin="miter"/>
<line x1="686.9" y1="545.9" x2="724.5" y2="545.5" stroke="#000" stroke-width="1.8" stroke-linecap="butt" stroke-dasharray="4,2"/>
<line x1="724.5" y1="545.5" x2="725.7" y2="671.8" stroke="#000" stroke-width="1.8" stroke-linecap="butt" stroke-dasharray="4,2"/>
<line x1="688.1" y1="672.2" x2="725.7" y2="671.8" stroke="#000" stroke-width="1.6" stroke-linecap="butt"/>
<line x1="727.9" y1="547.8" x2="729.2" y2="681.8" stroke="#000" stroke-width="1.5" stroke-linecap="butt"/>
<line x1="685" y1="554.7" x2="710" y2="554.4" stroke="#000" stroke-width="1.6" stroke-linecap="butt"/>
<path d="M710,554.4 A27,27 0 0 1 685.3,582" fill="none" stroke="#000" stroke-width="1.6"/>
<text x="565.7" y="610.4" font-family="Liberation Sans" font-weight="bold" font-size="14.8" textLength="106.3" lengthAdjust="spacingAndGlyphs" stroke="#000" stroke-width="0.3">MASTER BEDROOM</text>
<text x="581.9" y="621.6" font-family="Liberation Sans" font-weight="bold" font-size="12.4" textLength="70.9" lengthAdjust="spacingAndGlyphs" stroke="#000" stroke-width="0.3">14'0&quot; x 14'10&quot;</text>
<text x="566" y="633" font-family="Liberation Sans" font-weight="bold" font-size="8.7" textLength="104.7" lengthAdjust="spacingAndGlyphs" stroke="#000" stroke-width="0.3">OPTIONAL VOLUME CEILING</text>
<text x="693.6" y="618.6" font-family="Liberation Sans" font-weight="bold" font-size="6.3" textLength="21" lengthAdjust="spacingAndGlyphs" stroke="#000" stroke-width="0.3">WALK-IN</text>
<text x="693.7" y="625.3" font-family="Liberation Sans" font-weight="bold" font-size="6.6" textLength="21" lengthAdjust="spacingAndGlyphs" stroke="#000" stroke-width="0.3">CLOSET</text>
<text x="546.8" y="747.8" font-family="Liberation Sans" font-weight="bold" font-size="15.8" textLength="87.9" lengthAdjust="spacingAndGlyphs" stroke="#000" stroke-width="0.3">Second Floor</text>
<rect x="550.3" y="501" width="16.3" height="33.8" fill="#fff" stroke="#000" stroke-width="1.3"/>
<text x="0" y="0" transform="translate(562,527.1) rotate(-90)" font-family="Liberation Sans" font-weight="bold" font-size="7.4" textLength="16" lengthAdjust="spacingAndGlyphs" stroke="#000" stroke-width="0.3">LINEN</text>
<path d="M574.7,518.2 L588.7,525.1 L576.8,533.2" fill="none" stroke="#000" stroke-width="1.6"/>
</g>
<text x="410" y="109" font-family="Liberation Serif" font-weight="bold" font-size="66.5" stroke="#000" stroke-width="1.2" textLength="246" lengthAdjust="spacingAndGlyphs">PROVENCE</text>
<line x1="906.4" y1="20" x2="1160" y2="237.5" stroke="#000" stroke-width="2.4"/>
<line x1="996.7" y1="18" x2="1159" y2="156" stroke="#000" stroke-width="2.4"/>
<text x="0" y="0" transform="translate(1073.4,106.2) rotate(39.8)" text-anchor="middle" font-family="Liberation Serif" font-weight="bold" font-size="15.5" textLength="169" lengthAdjust="spacingAndGlyphs" dy="5.1">PRELIMINARY PLANS</text>
<text x="0" y="0" transform="translate(1062.8,121.5) rotate(39.8)" text-anchor="middle" font-family="Liberation Serif" font-weight="bold" font-size="15.5" textLength="175.5" lengthAdjust="spacingAndGlyphs" dy="5.1">SUBJECT TO CHANGE</text>
<circle cx="1138" cy="20" r="0.8" fill="#333"/>
<circle cx="1141" cy="41" r="1" fill="#333"/>
<circle cx="1152" cy="61" r="0.8" fill="#333"/>
<circle cx="1158" cy="88" r="1" fill="#333"/>
<circle cx="29" cy="343" r="1.1" fill="#333"/>
<polygon points="813.5,356 819,357.2 823,359 828,360.8 836.5,366.2 835.8,367.6 827,364.8 820,361.5 815,359" fill="#111"/>
<g>
<rect x="46" y="235" width="44" height="4.4" fill="#000"/>
<rect x="90" y="233.4" width="80" height="6" fill="#fff" stroke="#000" stroke-width="1.2"/>
<line x1="90" y1="236.4" x2="170" y2="236.4" stroke="#000" stroke-width="0.8"/>
<rect x="166" y="234" width="4" height="5.4" fill="#000"/>
<rect x="58" y="239" width="8.6" height="66.5" fill="#000"/>
<rect x="57" y="299" width="26" height="6.5" fill="#000"/>
<line x1="82.5" y1="239" x2="82.5" y2="305" stroke="#000" stroke-width="2.2"/>
<line x1="90.8" y1="239" x2="90.8" y2="305" stroke="#000" stroke-width="1"/>
<line x1="82" y1="305" x2="91" y2="305" stroke="#000" stroke-width="1"/>
<rect x="66" y="258.5" width="16.5" height="3.4" fill="#000"/>
<polyline points="81,265.5 68.5,270.5 68.5,290 81,297" fill="none" stroke="#000" stroke-width="2.6"/>
</g>
<text x="69.8" y="325.5" font-family="Liberation Sans" font-weight="bold" font-size="10.8" stroke="#000" stroke-width="0.3" textLength="87" lengthAdjust="spacingAndGlyphs">Optional Fireplace/</text>
<text x="82.8" y="336.8" font-family="Liberation Sans" font-weight="bold" font-size="10.8" stroke="#000" stroke-width="0.3" textLength="60" lengthAdjust="spacingAndGlyphs">Media Center</text>
<text x="79.5" y="347.8" font-family="Liberation Sans" font-weight="bold" font-size="10.8" stroke="#000" stroke-width="0.3" textLength="66" lengthAdjust="spacingAndGlyphs">at Great Room</text>
<text x="181.4" y="840.8" font-family="Liberation Sans" font-style="italic" font-size="8.6" stroke="#000" stroke-width="0.25" textLength="359" lengthAdjust="spacingAndGlyphs">All dimensions are approximate; specifications are subject to revisions by Developer.</text>
<path d="M874,721.7 H940.5 V709 A53.7,53.7 0 0 1 1047.9,709 V721.7 H1120.2 V834.9 H874 Z" fill="#111"/>
<path d="M874,721.7 H940.5 V709 A53.7,53.7 0 0 1 1047.9,709 V721.7 H1120.2 V834.9 H874 Z" fill="#fff" filter="url(#speck)"/>
<path d="M874,721.7 H940.5 V709 A53.7,53.7 0 0 1 1047.9,709 V721.7 H1120.2 V834.9 H874 Z" fill="none" stroke="#000" stroke-width="2"/>
<path d="M959,746.2 V710 A35.2,35.2 0 0 1 1029.4,710 V746.2" fill="none" stroke="#111" stroke-width="3" opacity="0.6"/>
<path d="M966,746.2 V710 A28.2,28.2 0 0 1 1022.4,710 V746.2" fill="none" stroke="#e6e6e6" stroke-width="2.2"/>
<path d="M967.8,746 V710 A26.4,26.4 0 0 1 1020.6,710 V746 Z" fill="#000"/>
<circle cx="988.5" cy="698" r="3.2" fill="#cfcfcf"/>
<path d="M990,702 L996,710 L993,726 L998,740 M996,710 L1001,693 M994,716 L986,722 M997,714 L1004,720" stroke="#bdbdbd" stroke-width="2.6" fill="none" stroke-linecap="round"/>
<path d="M972,725.5 H1017" stroke="#bbb" stroke-width="1.6" stroke-dasharray="4,2" fill="none"/>
<path d="M978,714 l3,8" stroke="#999" stroke-width="2" fill="none"/>
<line x1="876" y1="743.8" x2="962" y2="743.8" stroke="#ddd" stroke-width="1.2" opacity="0.7"/>
<line x1="1026" y1="743.8" x2="1118" y2="743.8" stroke="#ddd" stroke-width="1.2" opacity="0.7"/>
<line x1="918" y1="790.5" x2="1110" y2="790.5" stroke="#111" stroke-width="2.4"/>
<line x1="918" y1="792.8" x2="1110" y2="792.8" stroke="#eee" stroke-width="1"/>
<line x1="900" y1="809.5" x2="1110" y2="809.5" stroke="#111" stroke-width="2.2"/>
<line x1="876" y1="817.5" x2="1118" y2="817.5" stroke="#fff" stroke-width="2.6" opacity="0.9"/>
<line x1="876" y1="812" x2="1118" y2="812" stroke="#111" stroke-width="1.2"/>
<line x1="876" y1="826" x2="1118" y2="826" stroke="#111" stroke-width="1.2"/>
<text x="882" y="803.4" font-family="Liberation Serif" font-size="72" fill="#000" stroke="#f2f2f2" stroke-width="2.2" paint-order="stroke" textLength="33" lengthAdjust="spacingAndGlyphs">P</text>
<text x="913.7" y="783.5" font-family="Liberation Serif" font-size="37" fill="#000" stroke="#f2f2f2" stroke-width="2.2" paint-order="stroke" textLength="197" lengthAdjust="spacingAndGlyphs">INEHURST</text>
<text x="930" y="806.9" font-family="Liberation Serif" font-size="16.5" font-weight="bold" fill="#000" stroke="#f2f2f2" stroke-width="1.5" paint-order="stroke" textLength="152" lengthAdjust="spacingAndGlyphs">AT GREGG&#8217;S LANDING</text>
</svg>
</body></html>
